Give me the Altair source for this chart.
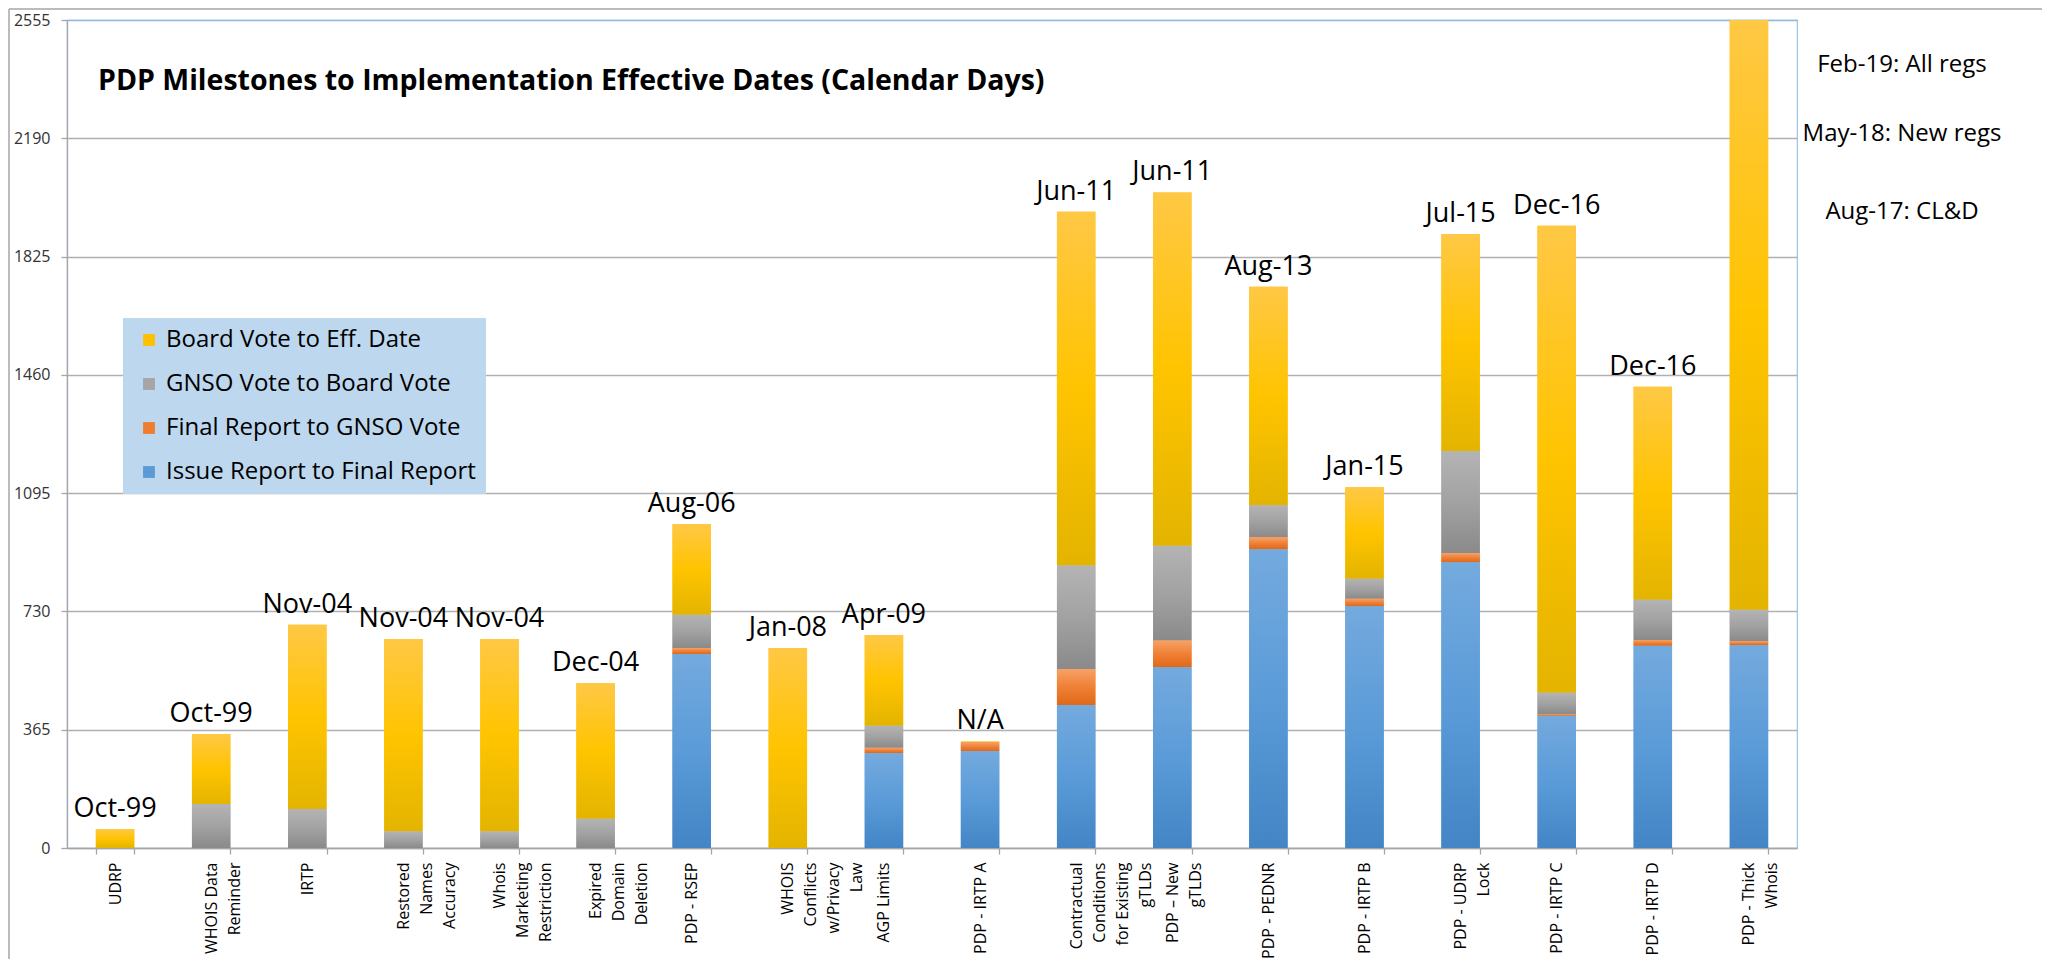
import altair as alt
import pandas as pd

categories = [
    "UDRP", "WHOIS Data\nReminder", "IRTP", "Restored\nNames\nAccuracy",
    "Whois\nMarketing\nRestriction", "Expired\nDomain\nDeletion", "PDP - RSEP",
    "WHOIS\nConflicts\nw/Privacy\nLaw", "AGP Limits", "PDP - IRTP A",
    "Contractual\nConditions\nfor Existing\ngTLDs", "PDP \u2013 New\ngTLDs",
    "PDP - PEDNR", "PDP - IRTP B", "PDP - UDRP\nLock", "PDP - IRTP C",
    "PDP - IRTP D", "PDP - Thick\nWhois",
]
issue_to_final = [0, 0, 0, 0, 0, 0, 599, 0, 293, 299, 441, 558, 922, 746, 882, 408, 624, 626]
final_to_gnso = [0, 0, 0, 0, 0, 0, 18, 0, 16, 27, 111, 82, 37, 23, 28, 5, 18, 12]
gnso_to_board = [0, 136, 120, 51, 51, 90, 103, 0, 68, 0, 320, 293, 99, 62, 315, 66, 124, 97]
board_to_eff = [58, 216, 569, 594, 594, 418, 279, 617, 280, 3, 1091, 1090, 674, 282, 670, 1441, 657, 1820]
eff_labels = ["Oct-99", "Oct-99", "Nov-04", "Nov-04", "Nov-04", "Dec-04", "Aug-06", "Jan-08",
              "Apr-09", "N/A", "Jun-11", "Jun-11", "Aug-13", "Jan-15", "Jul-15", "Dec-16",
              "Dec-16", ""]
series_names = ["Board Vote to Eff. Date", "GNSO Vote to Board Vote",
                "Final Report to GNSO Vote", "Issue Report to Final Report"]
series_colors = ["#FFC000", "#A5A5A5", "#ED7D31", "#5B9BD5"]
gradients = [
    ["#FFC845", "#FFC400", "#E3B400"],
    ["#B4B4B4", "#A2A2A2", "#8A8A8A"],
    ["#F6A266", "#EF8036", "#E06818"],
    ["#74AADE", "#5A9BD8", "#4385C5"],
]
y_ticks = [0, 365, 730, 1095, 1460, 1825, 2190, 2555]
title_text = "PDP Milestones to Implementation Effective Dates (Calendar Days)"
notes = ["Feb-19: All regs", "May-18: New regs", "Aug-17: CL&D"]

series_values = [board_to_eff, gnso_to_board, final_to_gnso, issue_to_final]
rows = []
for s_idx, (name, vals) in enumerate(zip(series_names, series_values)):
    for c, v, lab in zip(categories, vals, eff_labels):
        rows.append({"cat": c, "series": name, "value": v, "order": 3 - s_idx, "label": lab})
df = pd.DataFrame(rows)

W, H = 1730, 828
FONT = "Open Sans"

x_enc = alt.X("cat:N", sort=categories,
              scale=alt.Scale(paddingInner=0.6, paddingOuter=0.3),
              axis=alt.Axis(title=None, labelAngle=-90, labelAlign="right", labelBaseline="middle",
                            labelExpr="split(datum.label, '\\n')",
                            labelFont=FONT, labelFontSize=16, labelLineHeight=23,
                            labelColor="#000000", labelOverlap=False, labelLimit=400,
                            tickBand="extent", tickSize=6, labelPadding=8,
                            domainColor="#A6A6A6", tickColor="#A6A6A6",
                            domainWidth=1.3, tickWidth=1.3, grid=False))
y_scale = alt.Scale(domain=[0, 2555], nice=False, zero=True)

base = alt.Chart(df).transform_stack(
    stack="value", groupby=["cat"], as_=["y0", "y1"],
    sort=[alt.SortField("order", order="ascending")])

bars = base.mark_bar().encode(
    x=x_enc,
    y=alt.Y("y0:Q", scale=y_scale,
            axis=alt.Axis(values=y_ticks, format="d", title=None, tickSize=6, labelPadding=11,
                          labelFont=FONT, labelFontSize=16, labelColor="#333333",
                          domainColor="#A6A6A6", tickColor="#A6A6A6",
                          domainWidth=1.3, tickWidth=1.3,
                          gridColor={"condition": {"test": "datum.value == 2555", "value": "#8DB8E2"},
                                     "value": "#B0B0B0"},
                          gridWidth=1.3)),
    y2="y1:Q",
    color=alt.Color("series:N",
                    scale=alt.Scale(domain=series_names, range=series_colors),
                    legend=alt.Legend(title=None, orient="none", legendX=56, legendY=298,
                                      fillColor="#BDD7EE", padding=10, symbolOffset=4,
                                      symbolType="square", symbolSize=140,
                                      symbolStrokeWidth=0, symbolOpacity=1,
                                      labelFont=FONT, labelFontSize=24, labelColor="#000000",
                                      labelOffset=5, rowPadding=20, labelLimit=500)),
)

layers = [bars]
for name, stops in zip(series_names, gradients):
    grad = alt.Gradient(
        gradient="linear",
        stops=[alt.GradientStop(color=stops[0], offset=0),
               alt.GradientStop(color=stops[1], offset=0.5),
               alt.GradientStop(color=stops[2], offset=1)],
        x1=0, x2=0, y1=0, y2=1)
    layers.append(
        base.transform_filter(alt.datum.series == name)
        .mark_bar(color=grad)
        .encode(x=alt.X("cat:N", sort=categories), y=alt.Y("y0:Q", scale=y_scale), y2="y1:Q")
    )

labels = alt.Chart(df).transform_filter(alt.datum.label != "").transform_aggregate(
    total="sum(value)", groupby=["cat", "label"]
).mark_text(font=FONT, fontSize=27, color="#000000", baseline="middle", dy=-20).encode(
    x=alt.X("cat:N", sort=categories),
    y=alt.Y("total:Q", scale=y_scale),
    text="label:N",
)
layers.append(labels)

title = alt.Chart(pd.DataFrame({"t": [title_text]})).mark_text(
    font=FONT, fontSize=28.5, fontWeight="bold", align="left", baseline="middle", color="#000000"
).encode(text="t:N", x=alt.value(31), y=alt.value(61))
layers.append(title)

for note, ypos in zip(notes, [45, 114, 192]):
    layers.append(
        alt.Chart(pd.DataFrame({"t": [note]})).mark_text(
            font=FONT, fontSize=24, align="center", baseline="middle", color="#000000"
        ).encode(text="t:N", x=alt.value(1835), y=alt.value(ypos))
    )

one = pd.DataFrame({"a": [0]})
layers.append(alt.Chart(one).mark_rule(color="#A6A6A6", strokeWidth=1.5).encode(
    x=alt.value(-58), x2=alt.value(1975), y=alt.value(-11)))
layers.append(alt.Chart(one).mark_rule(color="#A6A6A6", strokeWidth=1.5).encode(
    x=alt.value(-58), y=alt.value(-11), y2=alt.value(960)))

chart = alt.layer(*layers).properties(
    width=W, height=H, padding={"left": 0, "top": 0, "right": 5, "bottom": 5},
    background="white",
).configure_view(stroke="#9DC3E6", strokeWidth=1.2)

chart.save("out.html", embed_options={"renderer": "svg", "actions": False})
